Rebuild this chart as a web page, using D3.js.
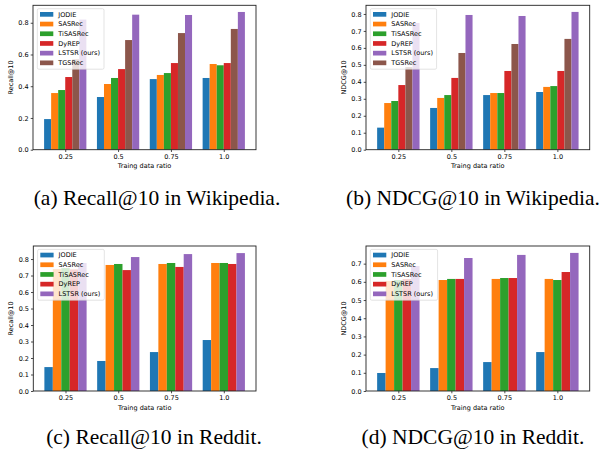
<!DOCTYPE html>
<html>
<head>
<meta charset="utf-8">
<script src="https://cdn.jsdelivr.net/npm/d3@7"></script>
<style>
  body { margin: 0; background: #fff; }
  svg { display: block; }
  .tick text { font-family: "DejaVu Sans", sans-serif; font-size: 6.5px; fill: #000; }
  .tick line { stroke: #000; stroke-width: 0.7; }
  .lbl { font-family: "DejaVu Sans", sans-serif; font-size: 6.5px; fill: #000; }
  .cap { font-family: "Liberation Serif", serif; font-size: 21.5px; fill: #000; }
</style>
</head>
<body>
<div id="fig"></div>
<script>
// categories and series
var ratios = ["0.25", "0.5", "0.75", "1.0"];
var models6 = ["JODIE", "SASRec", "TiSASRec", "DyREP", "TGSRec", "LSTSR (ours)"];
var models5 = ["JODIE", "SASRec", "TiSASRec", "DyREP", "LSTSR (ours)"];
var legend6 = ["JODIE", "SASRec", "TiSASRec", "DyREP", "LSTSR (ours)", "TGSRec"];
var legend5 = ["JODIE", "SASRec", "TiSASRec", "DyREP", "LSTSR (ours)"];

// one row per model, values per ratio
var recallWiki = [
  [0.193, 0.332, 0.445, 0.452],
  [0.357, 0.414, 0.471, 0.540],
  [0.376, 0.452, 0.483, 0.532],
  [0.458, 0.508, 0.546, 0.546],
  [0.570, 0.691, 0.735, 0.761],
  [0.820, 0.851, 0.849, 0.868]
];
var ndcgWiki = [
  [0.130, 0.246, 0.322, 0.340],
  [0.275, 0.305, 0.334, 0.370],
  [0.287, 0.322, 0.334, 0.375],
  [0.381, 0.423, 0.464, 0.464],
  [0.487, 0.570, 0.623, 0.653],
  [0.747, 0.794, 0.788, 0.812]
];
var recallReddit = [
  [0.145, 0.182, 0.236, 0.309],
  [0.739, 0.764, 0.770, 0.776],
  [0.745, 0.770, 0.776, 0.776],
  [0.737, 0.733, 0.752, 0.770],
  [0.776, 0.812, 0.830, 0.836]
];
var ndcgReddit = [
  [0.099, 0.126, 0.159, 0.214],
  [0.605, 0.610, 0.616, 0.616],
  [0.610, 0.616, 0.621, 0.610],
  [0.615, 0.616, 0.621, 0.654],
  [0.687, 0.731, 0.748, 0.759]
];

var recallWikiTicks = [0, 0.2, 0.4, 0.6, 0.8];
var ndcgWikiTicks = [0, 0.1, 0.2, 0.3, 0.4, 0.5, 0.6, 0.7, 0.8];
var recallRedditTicks = [0, 0.1, 0.2, 0.3, 0.4, 0.5, 0.6, 0.7, 0.8];
var ndcgRedditTicks = [0, 0.1, 0.2, 0.3, 0.4, 0.5, 0.6, 0.7];

var colorOf = {
  "JODIE": "#1f77b4", "SASRec": "#ff7f0e", "TiSASRec": "#2ca02c",
  "DyREP": "#d62728", "LSTSR (ours)": "#9467bd", "TGSRec": "#8c564b"
};

var svg = d3.select("#fig").append("svg")
  .attr("width", 616)
  .attr("height", 450);

function drawPanel(opt) {
  var g = svg.append("g").attr("transform", "translate(" + opt.left + "," + opt.top + ")");
  var w = opt.width, h = opt.height;

  var x = d3.scaleLinear().domain([-0.61, 3.61]).range([0, w]);
  var y = d3.scaleLinear().domain([0, opt.ymax]).range([h, 0]);
  var n = opt.models.length;
  var bw = 0.8 / n;

  // bars
  opt.models.forEach(function(m, i) {
    g.selectAll(".bar" + i)
      .data(opt.values[i])
      .enter().append("rect")
      .attr("x", function(d, j) { return x(j - 0.4 + i * bw); })
      .attr("width", x(bw) - x(0))
      .attr("y", function(d) { return y(d); })
      .attr("height", function(d) { return h - y(d); })
      .attr("fill", colorOf[m]);
  });

  // axes
  g.append("g")
    .attr("transform", "translate(0," + h + ")")
    .call(d3.axisBottom(x).tickValues([0, 1, 2, 3]).tickFormat(function(d) { return ratios[d]; }).tickSize(2.3).tickPadding(2))
    .call(function(s) { s.select(".domain").remove(); });
  g.append("g")
    .call(d3.axisLeft(y).tickValues(opt.ticks).tickFormat(d3.format(".1f")).tickSize(2.3).tickPadding(2))
    .call(function(s) { s.select(".domain").remove(); });

  // frame
  g.append("rect")
    .attr("width", w).attr("height", h)
    .attr("fill", "none").attr("stroke", "#222").attr("stroke-width", 0.9);

  // axis labels
  g.append("text").attr("class", "lbl")
    .attr("x", w / 2).attr("y", h + 18.5)
    .attr("text-anchor", "middle")
    .text("Traing data ratio");
  g.append("text").attr("class", "lbl")
    .attr("transform", "translate(" + opt.ylabX + "," + (h / 2) + ") rotate(-90)")
    .attr("text-anchor", "middle")
    .text(opt.ylabel);

  // legend
  var lg = g.append("g").attr("transform", "translate(4.3,3.4)");
  lg.append("rect")
    .attr("width", opt.legW).attr("height", opt.legend.length * 9.7 + 2.3)
    .attr("rx", 1.5)
    .attr("fill", "#fff").attr("fill-opacity", 0.8)
    .attr("stroke", "#d0d0d0").attr("stroke-width", 0.6);
  opt.legend.forEach(function(m, i) {
    var cy = 5.6 + i * 9.7;
    lg.append("rect")
      .attr("x", 2.7).attr("y", cy - 2.3)
      .attr("width", 13.3).attr("height", 4.7)
      .attr("fill", colorOf[m]);
    lg.append("text").attr("class", "lbl")
      .attr("x", 21).attr("y", cy + 2.4)
      .text(m);
  });

  // caption
  svg.append("text").attr("class", "cap")
    .attr("x", opt.capX).attr("y", opt.capY)
    .attr("text-anchor", "middle")
    .text(opt.caption);
}

drawPanel({ left: 33, top: 5.3, width: 223, height: 144.4, ymax: 0.91,
  models: models6, legend: legend6, values: recallWiki, ticks: recallWikiTicks,
  ylabel: "Recall@10", ylabX: -20, legW: 66.7,
  caption: "(a) Recall@10 in Wikipedia.", capX: 157, capY: 205 });

drawPanel({ left: 366, top: 5.3, width: 223.7, height: 144.4, ymax: 0.851,
  models: models6, legend: legend6, values: ndcgWiki, ticks: ndcgWikiTicks,
  ylabel: "NDCG@10", ylabX: -20, legW: 66.3,
  caption: "(b) NDCG@10 in Wikipedia.", capX: 473, capY: 205 });

drawPanel({ left: 33.3, top: 246, width: 222.7, height: 145, ymax: 0.879,
  models: models5, legend: legend5, values: recallReddit, ticks: recallRedditTicks,
  ylabel: "Recall@10", ylabX: -20, legW: 66.7,
  caption: "(c) Recall@10 in Reddit.", capX: 154, capY: 444 });

drawPanel({ left: 366, top: 246, width: 223.7, height: 145, ymax: 0.797,
  models: models5, legend: legend5, values: ndcgReddit, ticks: ndcgRedditTicks,
  ylabel: "NDCG@10", ylabX: -20, legW: 67.3,
  caption: "(d) NDCG@10 in Reddit.", capX: 473, capY: 444 });
</script>
</body>
</html>
